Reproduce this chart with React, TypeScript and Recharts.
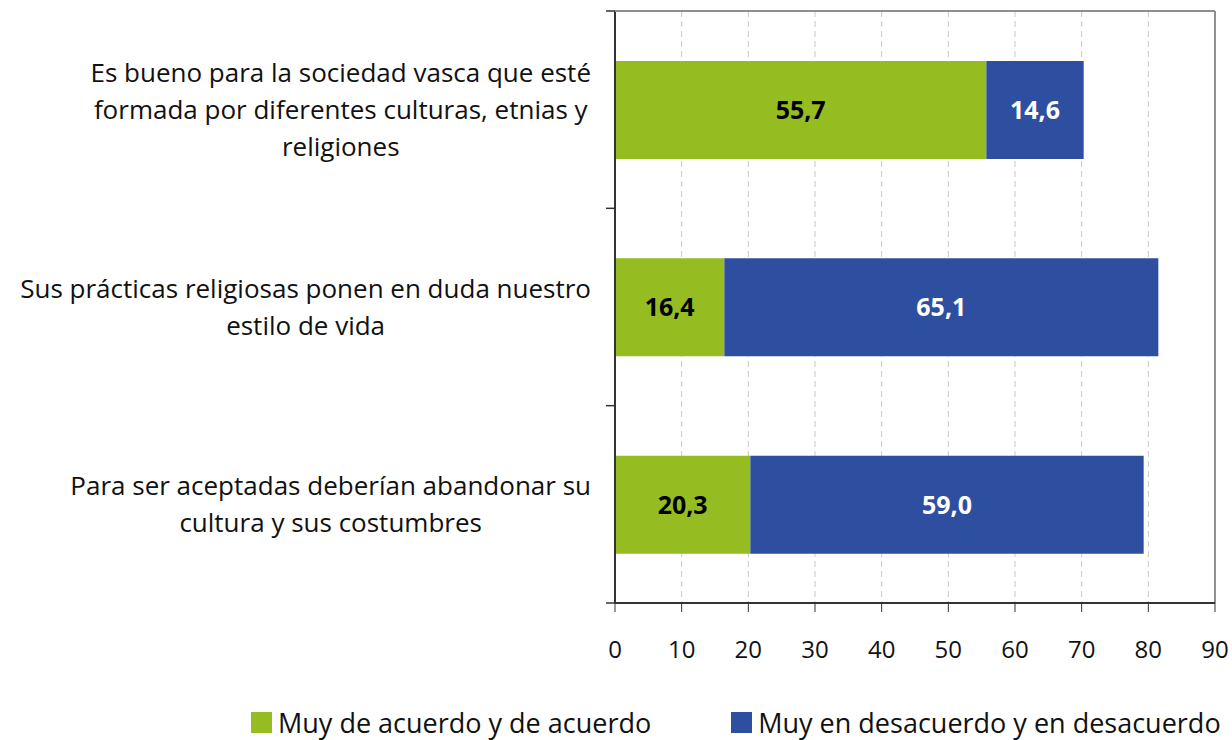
import { BarChart, Bar, XAxis, YAxis, CartesianGrid, Legend, LabelList, ReferenceLine } from 'recharts';

const categoryLabels = [
  'Es bueno para la sociedad vasca que esté\nformada por diferentes culturas, etnias y\nreligiones',
  'Sus prácticas religiosas ponen en duda nuestro\nestilo de vida',
  'Para ser aceptadas deberían abandonar su\ncultura y sus costumbres',
];
const acuerdo = [55.7, 16.4, 20.3];
const desacuerdo = [14.6, 65.1, 59.0];
const xTicks = [0, 10, 20, 30, 40, 50, 60, 70, 80, 90];
const seriesNames = ['Muy de acuerdo y de acuerdo', 'Muy en desacuerdo y en desacuerdo'];

const W = 1232;
const H = 740;
const MARGIN = { top: 11, right: 17, bottom: 0, left: 0 };
const GREEN = '#95bd22';
const BLUE = '#2e4f9f';
const FRAME = '#8f8f8f';
const FONT = '"Open Sans", Lato, sans-serif';
const LABEL_SIZE = 26;

const data = categoryLabels.map((name, i) => ({
  name,
  acuerdo: acuerdo[i],
  desacuerdo: desacuerdo[i],
}));

let ctx: CanvasRenderingContext2D | null = null;
const measure = (s: string) => {
  if (!ctx) ctx = document.createElement('canvas').getContext('2d');
  if (!ctx) return s.length * LABEL_SIZE * 0.53;
  ctx.font = `${LABEL_SIZE}px "Open Sans"`;
  return ctx.measureText(s).width;
};

const fmt = (v: any) => Number(v).toFixed(1).replace('.', ',');

const CategoryTick = (props: any) => {
  const { x, y, payload, index } = props;
  const lines: string[] = String(payload.value).split('\n');
  const half = payload.offset || 99;
  const maxW = Math.max(...lines.map(measure));
  const cx = x - 15 - maxW / 2;
  const lh = 37;
  return (
    <g>
      {/* top edge of the plot frame */}
      {index === 0 && (
        <line x1={x + 9} x2={W - MARGIN.right} y1={y - half} y2={y - half} stroke={FRAME} strokeWidth={2} />
      )}
      <line x1={x} x2={x + 9} y1={y - half} y2={y - half} stroke="#333" strokeWidth={1.5} />
      {index === data.length - 1 && (
        <line x1={x} x2={x + 9} y1={y + half} y2={y + half} stroke="#333" strokeWidth={1.5} />
      )}
      <text x={cx} y={y} textAnchor="middle" fontFamily={FONT} fontSize={LABEL_SIZE} fill="#111">
        {lines.map((l, i) => (
          <tspan key={i} x={cx} y={y + (i - (lines.length - 1) / 2) * lh} dy="0.35em">
            {l}
          </tspan>
        ))}
      </text>
    </g>
  );
};

const LegendContent = (props: any) => {
  const items = props.payload || [];
  return (
    <div style={{ display: 'flex', paddingLeft: 251, gap: 80, fontFamily: FONT, fontSize: 27, color: '#111' }}>
      {items.map((it: any) => (
        <div key={it.value} style={{ display: 'flex', alignItems: 'center' }}>
          <span style={{ width: 21, height: 21, background: it.color, display: 'inline-block', marginRight: 6 }} />
          <span>{it.value}</span>
        </div>
      ))}
    </div>
  );
};

export default function App() {
  return (
    <div style={{ position: 'absolute', left: 0, top: 0, background: '#fff' }}>
      <BarChart width={W} height={H} data={data} layout="vertical" margin={MARGIN} barSize={98}>
        <CartesianGrid horizontal={false} stroke="#c8c8c8" strokeDasharray="6 4" />
        <XAxis
          type="number"
          domain={[0, 90]}
          ticks={xTicks}
          interval={0}
          height={97}
          tickSize={9}
          tickMargin={29}
          axisLine={{ stroke: '#333', strokeWidth: 2 }}
          tickLine={{ stroke: '#333' }}
          tick={{ fill: '#111', fontSize: 24, fontFamily: FONT }}
        />
        <YAxis
          type="category"
          dataKey="name"
          width={615}
          tickSize={9}
          tickMargin={0}
          tickLine={false}
          interval={0}
          axisLine={{ stroke: '#333', strokeWidth: 2 }}
          tick={<CategoryTick />}
        />
        <ReferenceLine x={90} stroke={FRAME} strokeWidth={2} ifOverflow="visible" />
        <Legend
          verticalAlign="bottom"
          height={40}
          content={<LegendContent />}
          wrapperStyle={{ top: 704, left: 0, bottom: 'auto', width: W }}
        />
        <Bar dataKey="acuerdo" name={seriesNames[0]} stackId="a" fill={GREEN} isAnimationActive={false}>
          <LabelList dataKey="acuerdo" position="center" formatter={fmt} fill="#000" fontSize={25} fontWeight="bold" fontFamily={FONT} />
        </Bar>
        <Bar dataKey="desacuerdo" name={seriesNames[1]} stackId="a" fill={BLUE} isAnimationActive={false}>
          <LabelList dataKey="desacuerdo" position="center" formatter={fmt} fill="#fff" fontSize={25} fontWeight="bold" fontFamily={FONT} />
        </Bar>
      </BarChart>
    </div>
  );
}
